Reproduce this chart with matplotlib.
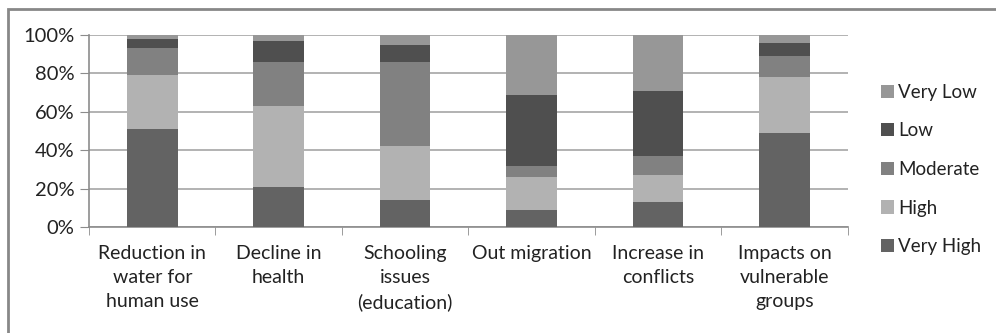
import matplotlib.pyplot as plt
import matplotlib.patches as patches
import numpy as np

plt.rcParams['font.family'] = ['Lato', 'DejaVu Sans']

categories = ["Reduction in\nwater for\nhuman use", "Decline in\nhealth",
              "Schooling\nissues\n(education)", "Out migration",
              "Increase in\nconflicts", "Impacts on\nvulnerable\ngroups"]
levels = ["Very High", "High", "Moderate", "Low", "Very Low"]
very_high = [51, 21, 14, 9, 13, 49]
high = [28, 42, 28, 17, 14, 29]
moderate = [14, 23, 44, 6, 10, 11]
low = [5, 11, 9, 37, 34, 7]
very_low = [2, 3, 5, 31, 29, 4]
colors = ["#636363", "#b2b2b2", "#818181", "#4f4f4f", "#979797"]

fig = plt.figure(figsize=(9.96, 3.33), dpi=100)
ax = fig.add_axes([0.0894, 0.318, 0.7616, 0.577])

x = np.arange(len(categories))
bottom = np.zeros(len(categories))
handles = []
for name, vals, c in zip(levels, [very_high, high, moderate, low, very_low], colors):
    b = ax.bar(x, vals, 0.4, bottom=bottom, color=c, label=name, zorder=3)
    handles.append(b)
    bottom += np.array(vals)

ax.set_xlim(-0.5, len(categories) - 0.5)
ax.set_ylim(0, 100)
ax.set_yticks(range(0, 101, 20))
ax.set_yticklabels([f"{v}%" for v in range(0, 101, 20)], fontsize=14.5, color="#222222")
ax.yaxis.grid(True, color="#a6a6a6", linewidth=1.2, zorder=0)

ax.set_xticks(x)
ax.set_xticklabels(categories, fontsize=14, color="#222222", linespacing=1.5)
ax.tick_params(axis='x', which='major', length=0, pad=13)
ax.set_xticks(np.arange(-0.5, len(categories), 1), minor=True)
ax.tick_params(axis='x', which='minor', length=6, color="#8c8c8c", direction='out')
ax.tick_params(axis='y', length=6.5, color="#8c8c8c", pad=4)

for s in ['top', 'right']:
    ax.spines[s].set_visible(False)
for s in ['left', 'bottom']:
    ax.spines[s].set_color("#8c8c8c")
    ax.spines[s].set_linewidth(1.2)

leg = ax.legend(handles[::-1], levels[::-1], loc='center left',
                bbox_to_anchor=(1.022, 0.30), frameon=False, fontsize=13.5,
                handlelength=0.7, handleheight=0.7, handletextpad=0.2,
                labelspacing=1.15)
for t in leg.get_texts():
    t.set_color("#222222")

# outer chart border
fig.patches.append(patches.Rectangle((8 / 996, -0.1), 1.1, 1 - 9 / 333 + 0.1,
                                     transform=fig.transFigure, fill=False,
                                     edgecolor="#888888", linewidth=2))

fig.savefig("out.png", dpi=100)
